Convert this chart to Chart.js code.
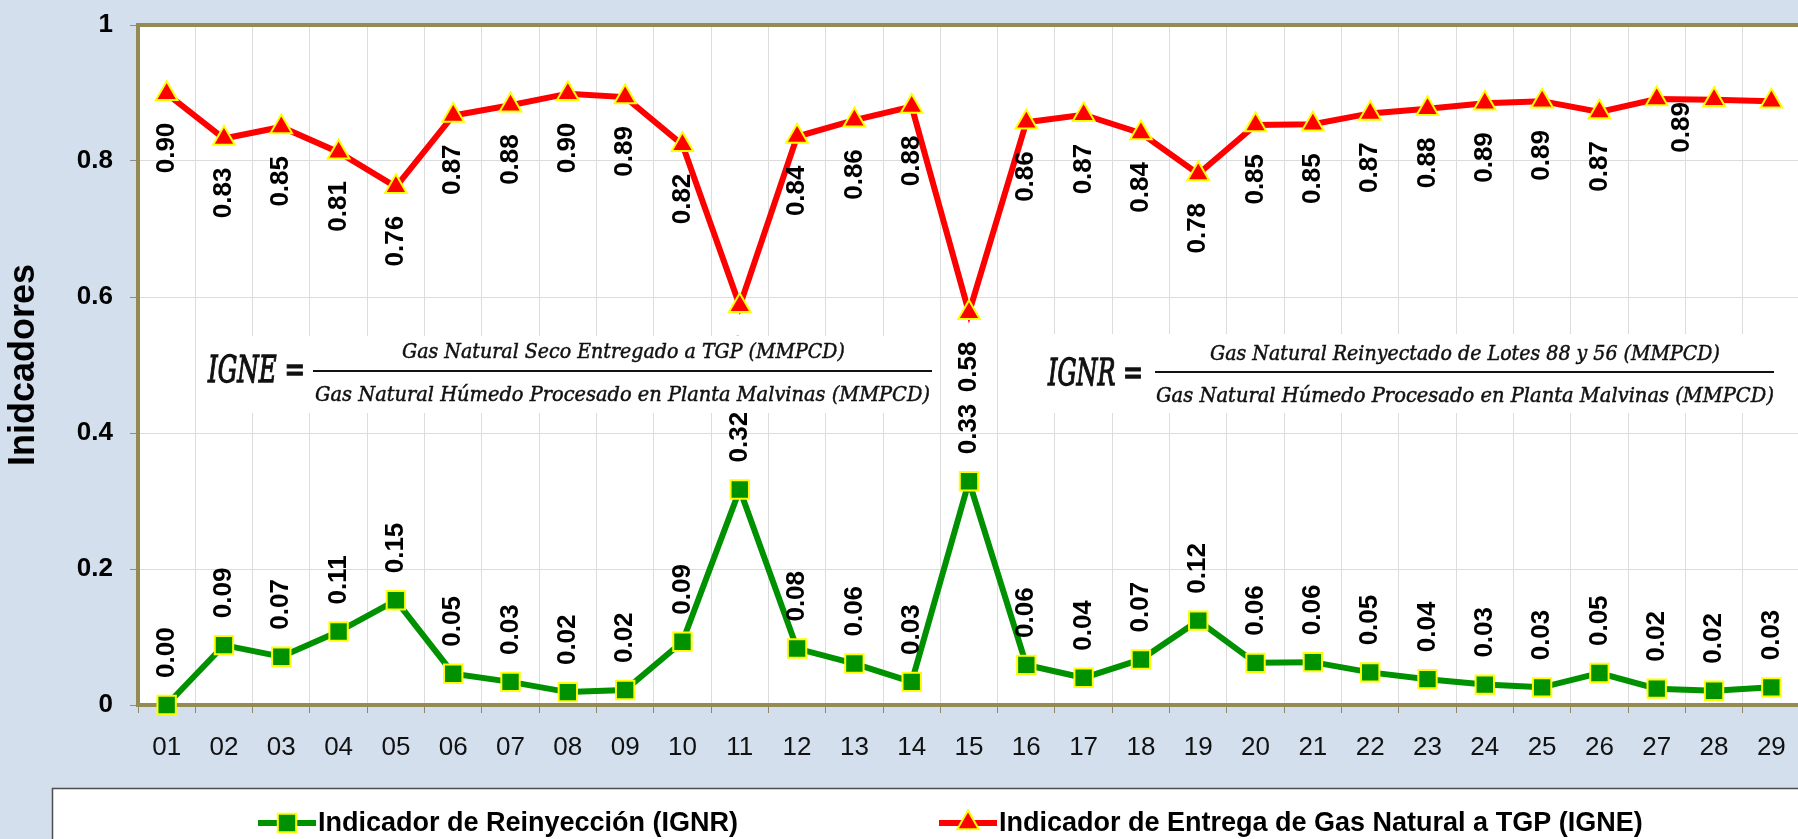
<!DOCTYPE html>
<html>
<head>
<meta charset="utf-8">
<script src="https://cdn.jsdelivr.net/npm/chart.js@4.4.1/dist/chart.umd.min.js"></script>
<style>
  html, body { margin: 0; padding: 0; background: #d3dfed; overflow: hidden; }
  canvas { display: block; }
</style>
</head>
<body>
<!-- el grafico original esta recortado a la derecha: el lienzo sobresale un poco de la ventana -->
<canvas id="indicadores-chart" width="1815" height="839"></canvas>
<script>
// dias del mes
const days = ['01', '02', '03', '04', '05', '06', '07', '08', '09', '10', '11', '12', '13', '14', '15',
  '16', '17', '18', '19', '20', '21', '22', '23', '24', '25', '26', '27', '28', '29']

// Indicador de Reinyeccion (IGNR)
const ignrValues = [0.00, 0.088, 0.071, 0.108, 0.154, 0.046, 0.034, 0.019, 0.022, 0.093, 0.317, 0.083, 0.061, 0.034, 0.329,
  0.059, 0.040, 0.067, 0.124, 0.062, 0.063, 0.048, 0.038, 0.030, 0.026, 0.047, 0.024, 0.021, 0.026]

// Indicador de Entrega de Gas Natural a TGP (IGNE)
const igneValues = [0.899, 0.833, 0.850, 0.813, 0.762, 0.867, 0.882, 0.899, 0.894, 0.824, 0.587, 0.836, 0.860, 0.880, 0.577,
  0.857, 0.868, 0.841, 0.781, 0.853, 0.854, 0.870, 0.877, 0.885, 0.888, 0.872, 0.891, 0.890, 0.888]

const yTicks = [0, 0.2, 0.4, 0.6, 0.8, 1]

// etiquetas de IGNE que no aparecen / que fueron movidas a mano
const hiddenIgneLabels = [27, 28]
const igneLabelNudge = { 26: [25, -26] }

const OLIVE = '#948a54'
const SANS = "'Liberation Sans', Arial, sans-serif"
const SERIF = "'DejaVu Serif', 'Liberation Serif', serif"

const backgroundPlugin = {
  id: 'background',
  beforeDraw(chart) {
    const { ctx, chartArea: a } = chart
    ctx.save()
    ctx.fillStyle = '#d3dfed'
    ctx.fillRect(0, 0, chart.width, chart.height)
    ctx.fillStyle = '#ffffff'
    ctx.fillRect(a.left, a.top, a.right - a.left, a.bottom - a.top)
    ctx.restore()
  },
  beforeDatasetsDraw(chart) {
    // borde superior del area de trazado
    const { ctx, chartArea: a } = chart
    ctx.save()
    ctx.strokeStyle = OLIVE
    ctx.lineWidth = 4
    ctx.beginPath()
    ctx.moveTo(a.left - 2, a.top)
    ctx.lineTo(a.right, a.top)
    ctx.stroke()
    ctx.restore()
  }
}

const valueLabelsPlugin = {
  id: 'valueLabels',
  afterDatasetsDraw(chart) {
    const ctx = chart.ctx
    ctx.save()
    ctx.font = 'bold 26px ' + SANS
    ctx.fillStyle = '#000'
    ctx.textAlign = 'center'
    ctx.textBaseline = 'middle'
    chart.data.datasets.forEach((ds, i) => {
      const meta = chart.getDatasetMeta(i)
      meta.data.forEach((pt, j) => {
        if (ds.labelsBelow && hiddenIgneLabels.includes(j)) return
        const text = ds.data[j].toFixed(2)
        const w = ctx.measureText(text).width
        let x = pt.x
        let y = ds.labelsBelow ? pt.y + 29 + w / 2 : pt.y - 27 - w / 2
        if (ds.labelsBelow && igneLabelNudge[j]) {
          x += igneLabelNudge[j][0]
          y += igneLabelNudge[j][1]
        }
        ctx.save()
        ctx.translate(x, y)
        ctx.rotate(-Math.PI / 2)
        ctx.fillText(text, 0, 0)
        ctx.restore()
      })
    })
    ctx.restore()
  }
}

const fitText = (ctx, text, left, right, baseline, font, weight) => {
  ctx.font = font
  const w = ctx.measureText(text).width
  ctx.save()
  ctx.translate(left, baseline)
  ctx.scale((right - left) / w, 1)
  ctx.fillText(text, 0, 0)
  if (weight) {
    ctx.lineWidth = weight
    ctx.strokeText(text, 0, 0)
  }
  ctx.restore()
}

const formulas = [
  { box: [200, 336, 936, 413], name: ['IGNE =', 208, 305, 382], bar: [313, 932, 371],
    num: ['Gas Natural Seco Entregado a TGP (MMPCD)', 402, 845, 358],
    den: ['Gas Natural Húmedo Procesado en Planta Malvinas (MMPCD)', 315, 930, 401] },
  { box: [1040, 334, 1790, 413], name: ['IGNR =', 1048, 1143, 385], bar: [1155, 1774, 372],
    num: ['Gas Natural Reinyectado de Lotes 88 y 56 (MMPCD)', 1210, 1720, 360],
    den: ['Gas Natural Húmedo Procesado en Planta Malvinas (MMPCD)', 1156, 1774, 402] }
]

const formulaPlugin = {
  id: 'formulas',
  afterDraw(chart) {
    const ctx = chart.ctx
    ctx.save()
    ctx.textAlign = 'left'
    ctx.textBaseline = 'alphabetic'
    formulas.forEach(f => {
      const [x1, y1, x2, y2] = f.box
      ctx.fillStyle = '#ffffff'
      ctx.fillRect(x1, y1, x2 - x1, y2 - y1)
      ctx.fillStyle = '#111'
      ctx.strokeStyle = '#111'
      fitText(ctx, f.name[0], f.name[1], f.name[2], f.name[3], 'italic 37px ' + SERIF, 1.3)
      fitText(ctx, f.num[0], f.num[1], f.num[2], f.num[3], 'italic 21px ' + SERIF, 0.5)
      fitText(ctx, f.den[0], f.den[1], f.den[2], f.den[3], 'italic 21px ' + SERIF, 0.5)
      ctx.lineWidth = 2
      ctx.beginPath()
      ctx.moveTo(f.bar[0], f.bar[2])
      ctx.lineTo(f.bar[1], f.bar[2])
      ctx.stroke()
    })
    ctx.restore()
  }
}

const drawMarker = (ctx, ds, x, y) => {
  const r = ds.pointRadius
  ctx.beginPath()
  if (ds.pointStyle === 'rect') {
    const s = Math.SQRT1_2 * r
    ctx.rect(x - s, y - s, 2 * s, 2 * s)
  } else {
    for (let k = 0; k < 3; k++) {
      const rad = k * 2 * Math.PI / 3
      ctx.lineTo(x + Math.sin(rad) * r, y - Math.cos(rad) * r)
    }
    ctx.closePath()
  }
  ctx.fillStyle = ds.pointBackgroundColor
  ctx.fill()
  ctx.strokeStyle = ds.pointBorderColor
  ctx.lineWidth = ds.pointBorderWidth
  ctx.stroke()
}

const legendPlugin = {
  id: 'excelLegend',
  afterDraw(chart) {
    const ctx = chart.ctx
    ctx.save()
    ctx.fillStyle = '#ffffff'
    ctx.fillRect(52, 788, chart.width, 60)
    ctx.strokeStyle = '#4d4d4d'
    ctx.lineWidth = 1.5
    ctx.strokeRect(52.5, 788.5, chart.width, 60)
    const starts = [258, 939]
    const y = 823
    ctx.font = 'bold 27px ' + SANS
    ctx.textBaseline = 'middle'
    ctx.textAlign = 'left'
    chart.data.datasets.forEach((ds, i) => {
      const x = starts[i]
      ctx.strokeStyle = ds.borderColor
      ctx.lineWidth = ds.borderWidth
      ctx.beginPath()
      ctx.moveTo(x, y)
      ctx.lineTo(x + 58, y)
      ctx.stroke()
      drawMarker(ctx, ds, x + 29, y)
      ctx.fillStyle = '#000'
      ctx.fillText(ds.label, x + 60, y + 1)
    })
    ctx.restore()
  }
}

const indicadoresChart = () => {
  const options = {
    type: 'line',
    data: {
      labels: days,
      datasets: [{
        label: 'Indicador de Reinyección (IGNR)',
        data: ignrValues,
        borderColor: '#009100',
        backgroundColor: '#009100',
        borderWidth: 6,
        pointStyle: 'rect',
        pointRadius: 13,
        pointBackgroundColor: '#009100',
        pointBorderColor: '#ffff00',
        pointBorderWidth: 2,
        clip: false,
        labelsBelow: false
      }, {
        label: 'Indicador de Entrega de Gas Natural a TGP (IGNE)',
        data: igneValues,
        borderColor: '#ff0000',
        backgroundColor: '#ff0000',
        borderWidth: 6,
        pointStyle: 'triangle',
        pointRadius: 12.5,
        pointBackgroundColor: '#ff0000',
        pointBorderColor: '#ffff00',
        pointBorderWidth: 2,
        clip: false,
        labelsBelow: true
      }]
    },
    options: {
      responsive: false,
      animation: false,
      layout: { padding: { top: 25, right: 0, bottom: 51, left: 0 } },
      plugins: {
        legend: { display: false },
        tooltip: { enabled: false }
      },
      scales: {
        x: {
          offset: true,
          grid: { offset: true, color: '#dcdcdc', lineWidth: 1, tickLength: 8, tickColor: '#8c8a6c' },
          border: { color: OLIVE, width: 4 },
          ticks: { color: '#111', font: { family: SANS, size: 26 }, padding: 19, maxRotation: 0, autoSkip: false },
          afterFit: s => {
            s.height = 83
            s.paddingLeft = 0
            s.paddingRight = 0
          }
        },
        y: {
          min: yTicks[0],
          max: yTicks[yTicks.length - 1],
          afterBuildTicks: s => { s.ticks = yTicks.map(v => ({ value: v })) },
          grid: { color: '#dcdcdc', lineWidth: 1, tickLength: 8, tickColor: '#8c8c8c' },
          border: { color: OLIVE, width: 4 },
          ticks: {
            color: '#000',
            font: { family: SANS, size: 26, weight: 'bold' },
            padding: 17,
            callback: v => String(Number(v.toFixed(1)))
          },
          title: {
            display: true,
            text: 'Inidcadores',
            color: '#000',
            font: { family: SANS, size: 36, weight: 'bold' },
            padding: { top: 2, bottom: 0 }
          },
          afterFit: s => {
            s.width = 138
            s.paddingTop = 0
            s.paddingBottom = 0
          }
        }
      }
    },
    plugins: [backgroundPlugin, valueLabelsPlugin, formulaPlugin, legendPlugin]
  }
  const canvas = document.getElementById('indicadores-chart').getContext('2d')
  new Chart(canvas, options)
}

window.onload = () => {
  indicadoresChart()
}
</script>
</body>
</html>
